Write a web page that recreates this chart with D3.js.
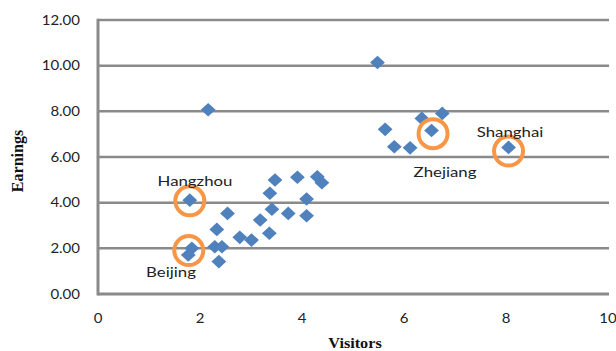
<!DOCTYPE html>
<html>
<head>
<meta charset="utf-8">
<script src="https://cdn.jsdelivr.net/npm/d3@7"></script>
<style>
html,body{margin:0;padding:0;background:#fff;}
svg{display:block;}
</style>
</head>
<body>
<svg id="chart" width="616" height="351"></svg>
<script>
// Data
const visitors = [2.16, 5.48, 5.63, 6.35, 6.75, 6.54, 5.81, 6.12, 8.05, 1.80,
  2.54, 2.33, 1.84, 1.77, 2.29, 2.43, 2.37, 2.78, 3.01, 3.18,
  3.47, 3.91, 4.30, 4.39, 3.37, 4.09, 3.41, 3.73, 4.09, 3.36];
const earnings = [8.07, 10.14, 7.21, 7.69, 7.91, 7.16, 6.45, 6.40, 6.42, 4.11,
  3.53, 2.83, 2.00, 1.71, 2.07, 2.07, 1.42, 2.48, 2.36, 3.24,
  4.99, 5.11, 5.13, 4.87, 4.41, 4.16, 3.71, 3.53, 3.43, 2.66];
const cities = ["Hangzhou", "Beijing", "Zhejiang", "Shanghai"];
const cityVisitors = [1.80, 1.78, 6.57, 8.05];
const cityEarnings = [4.08, 1.90, 7.02, 6.26];
const xTicks = [0, 2, 4, 6, 8, 10];
const yTicks = [0, 2, 4, 6, 8, 10, 12];
const xTitle = "Visitors";
const yTitle = "Earnings";

const svg = d3.select("#chart");
const x = d3.scaleLinear().domain([0, 10]).range([98, 608]);
const y = d3.scaleLinear().domain([0, 12]).range([294, 20]);

const grey = "#8a8a8a";
const sx = 1.2;

// gridlines
svg.append("g").selectAll("line").data(yTicks).join("line")
  .attr("x1", x(0)).attr("x2", x(10) + 1)
  .attr("y1", d => y(d)).attr("y2", d => y(d))
  .attr("stroke", grey).attr("stroke-width", d => d === 0 ? 3 : 2.5);
// left axis line
svg.append("line").attr("x1", x(0)).attr("x2", x(0))
  .attr("y1", y(12) - 1.2).attr("y2", y(0) + 1.5)
  .attr("stroke", grey).attr("stroke-width", 3);

// y tick labels
svg.append("g").selectAll("text").data(yTicks).join("text")
  .attr("transform", d => `translate(80,${y(d) + 4.6}) scale(${sx},1)`)
  .attr("text-anchor", "end")
  .attr("font-family", "Lato, 'Open Sans', sans-serif")
  .attr("font-size", 12.5).attr("fill", "#222")
  .text(d => d3.format(".2f")(d));

// x tick labels
svg.append("g").selectAll("text").data(xTicks).join("text")
  .attr("transform", d => `translate(${x(d)},322.5) scale(${sx},1)`)
  .attr("text-anchor", "middle")
  .attr("font-family", "Lato, 'Open Sans', sans-serif")
  .attr("font-size", 12.5).attr("fill", "#222")
  .text(d => d);

// axis titles
svg.append("text")
  .attr("transform", `translate(355,348) scale(1.08,1)`)
  .attr("text-anchor", "middle")
  .attr("font-family", "'Liberation Serif', 'Times New Roman', serif")
  .attr("font-weight", "bold").attr("font-size", 15).attr("fill", "#111")
  .text(xTitle);
svg.append("text")
  .attr("transform", `translate(23,161) rotate(-90)`)
  .attr("text-anchor", "middle")
  .attr("font-family", "'Liberation Serif', 'Times New Roman', serif")
  .attr("font-weight", "bold").attr("font-size", 16).attr("fill", "#111")
  .text(yTitle);

// diamonds
const pts = visitors.map((v, i) => ({v, e: earnings[i]}));
svg.append("g").selectAll("path").data(pts).join("path")
  .attr("transform", d => `translate(${x(d.v)},${y(d.e)})`)
  .attr("d", "M0,-6.8L7.4,0L0,6.8L-7.4,0Z")
  .attr("fill", "#4F81BD");

// highlight circles
const hl = cities.map((c, i) => ({c, v: cityVisitors[i], e: cityEarnings[i]}));
svg.append("g").selectAll("ellipse").data(hl).join("ellipse")
  .attr("cx", d => x(d.v)).attr("cy", d => y(d.e))
  .attr("rx", 14.5).attr("ry", 14.5)
  .attr("fill", "none").attr("stroke", "#F79646").attr("stroke-width", 4);

// city labels
const labelPos = {
  Hangzhou: [195, 186], Beijing: [171, 277], Zhejiang: [445, 177], Shanghai: [510, 137]
};
svg.append("g").selectAll("text").data(cities).join("text")
  .attr("transform", d => `translate(${labelPos[d][0]},${labelPos[d][1]}) scale(${sx},1)`)
  .attr("text-anchor", "middle")
  .attr("font-family", "Lato, 'Open Sans', sans-serif")
  .attr("font-size", 14).attr("fill", "#222")
  .text(d => d);
</script>
</body>
</html>
